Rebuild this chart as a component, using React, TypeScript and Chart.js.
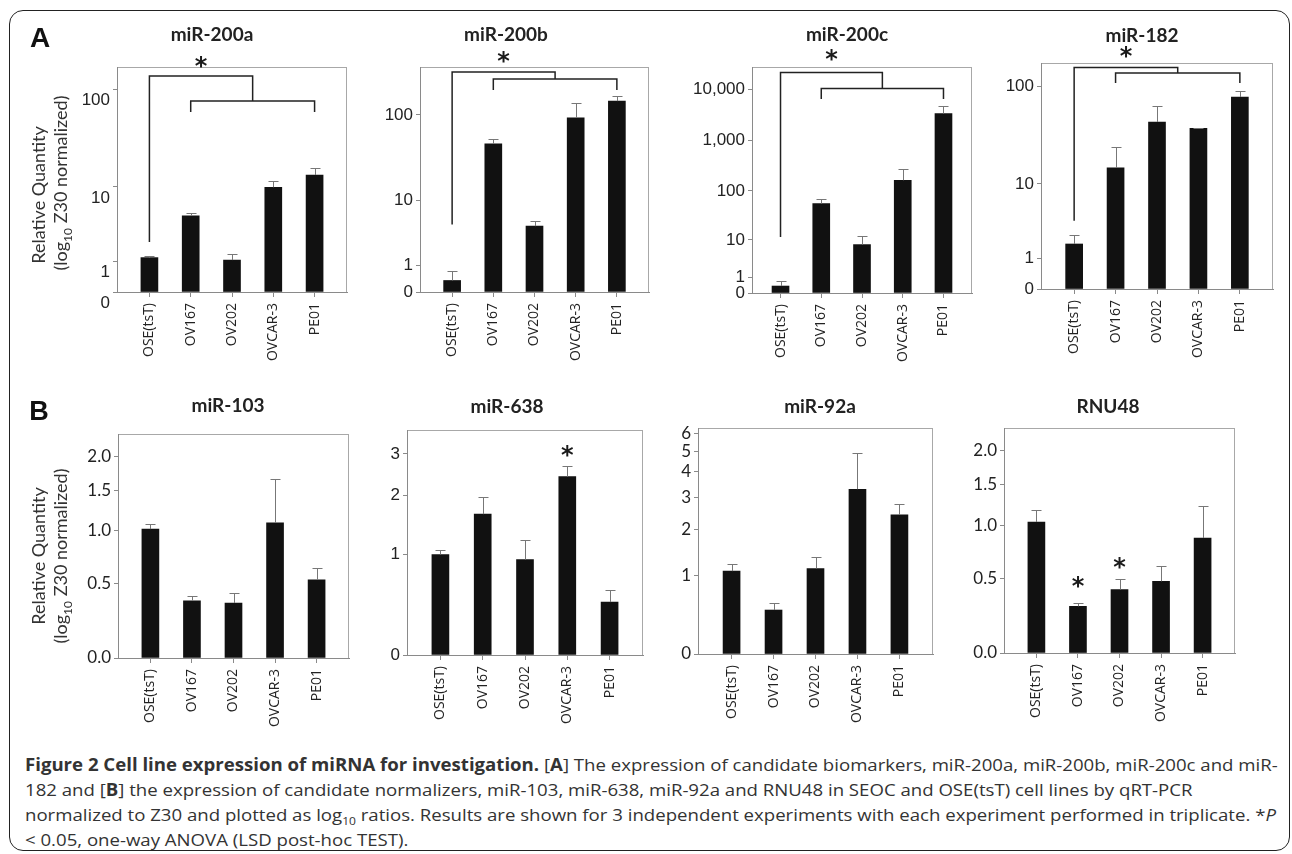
import React, { useEffect, useLayoutEffect, useRef } from 'react';
import { Chart, registerables, LinearScale } from 'chart.js';

// Axis used by the figure: values are plotted on log10(1 + x)
class Log1pScale extends LinearScale {
  static id = 'log1p';
  getPixelForValue(value: number) {
    const a = Math.log10(1 + this.min);
    const b = Math.log10(1 + this.max);
    const v = Math.log10(1 + Math.max(0, value));
    return this.getPixelForDecimal((v - a) / (b - a));
  }
  getValueForPixel(pixel: number) {
    const a = Math.log10(1 + this.min);
    const b = Math.log10(1 + this.max);
    return Math.pow(10, a + this.getDecimalForPixel(pixel) * (b - a)) - 1;
  }
}
Chart.register(...registerables, Log1pScale);

// ---------------- data ----------------
const categories = ['OSE(tsT)', 'OV167', 'OV202', 'OVCAR-3', 'PE01'];

const miR200aMean = [1.19, 4.69, 1.07, 9.88, 13.4];
const miR200aErr = [0.1, 0.41, 0.31, 1.59, 2.4];
const miR200bMean = [0.35, 46.7, 4.56, 93, 144];
const miR200bErr = [0.37, 6.6, 0.78, 45, 20];
const miR200cMean = [0.37, 56.1, 7.93, 162.7, 3346];
const miR200cErr = [0.33, 13.2, 4.5, 109, 1309];
const miR182Mean = [1.79, 14.8, 44, 37.9, 78.6];
const miR182Err = [0.66, 9.4, 19.3, 0.4, 10.8];

const miR103Mean = [1.02, 0.367, 0.35, 1.09, 0.533];
const miR103Err = [0.06, 0.033, 0.076, 0.57, 0.1];
const miR638Mean = [1.0, 1.64, 0.93, 2.42, 0.44];
const miR638Err = [0.06, 0.34, 0.28, 0.26, 0.13];
const miR92aMean = [1.08, 0.475, 1.13, 3.29, 2.42];
const miR92aErr = [0.13, 0.09, 0.22, 1.64, 0.36];
const rnu48Mean = [1.035, 0.288, 0.411, 0.475, 0.866];
const rnu48Err = [0.135, 0.023, 0.08, 0.125, 0.354];

const decadeTicks = [0, 1, 10, 100];
const decadeTickLabels = ['0', '1', '10', '100'];
const wideDecadeTicks = [0, 1, 10, 100, 1000, 10000];
const wideDecadeTickLabels = ['0', '1', '10', '100', '1,000', '10,000'];
const ratioTicks = [0, 0.5, 1, 1.5, 2];
const ratioTickLabels = ['0.0', '0.5', '1.0', '1.5', '2.0'];
const miR638Ticks = [0, 1, 2, 3];
const miR638TickLabels = ['0', '1', '2', '3'];
const miR92aTicks = [0, 1, 2, 3, 4, 5, 6];
const miR92aTickLabels = ['0', '1', '2', '3', '4', '5', '6'];

// ---------------- styles / layout ----------------
const ARIAL = "'Liberation Sans', Arial, sans-serif";
const LATO = "Lato, 'Open Sans', sans-serif";
const OPEN = "'Open Sans', 'DejaVu Sans', sans-serif";
const Y_AXIS_W = 70;
const PAD_TOP = 32;
const PAD_R = 6;
const X_AXIS_H = 72;
const AXIS_COLOR = '#8a8a8a';
const BOX_COLOR = '#a8a8a8';

type Bracket = { legFrom: number; top: number; low: number; tick: number; star: number };
type Panel = {
  id: string;
  values: number[];
  errors: number[];
  ticks: number[];
  tickLabels: string[];
  yMax: number;
  box: [number, number, number, number];
  xPad: number;
  yFont: string;
  labelOffset?: number;
  bracket?: Bracket;
  stars?: { i: number; at: number }[];
};

const panels: Panel[] = [
  { id: 'a1', values: miR200aMean, errors: miR200aErr, ticks: decadeTicks, tickLabels: decadeTickLabels, yMax: 167.9, box: [117, 67, 347, 292], xPad: 0.785, yFont: ARIAL, labelOffset: 11, bracket: { legFrom: 2.13, top: 9, low: 34, tick: 11, star: -5.3 } },
  { id: 'a2', values: miR200bMean, errors: miR200bErr, ticks: decadeTicks, tickLabels: decadeTickLabels, yMax: 352, box: [420, 67, 649, 292], xPad: 0.78, yFont: ARIAL, bracket: { legFrom: 4.81, top: 5, low: 12, tick: 11, star: -10 } },
  { id: 'a3', values: miR200cMean, errors: miR200cErr, ticks: wideDecadeTicks, tickLabels: wideDecadeTickLabels, yMax: 27540, box: [752, 67, 972, 293], xPad: 0.7, yFont: ARIAL, bracket: { legFrom: 11.6, top: 5.5, low: 21.5, tick: 10.5, star: -12 } },
  { id: 'a4', values: miR182Mean, errors: miR182Err, ticks: decadeTicks, tickLabels: decadeTickLabels, yMax: 171.8, box: [1041, 63, 1273, 289], xPad: 0.8, yFont: ARIAL, bracket: { legFrom: 3.75, top: 4.5, low: 10, tick: 10, star: -11.5 } },
  { id: 'b1', values: miR103Mean, errors: miR103Err, ticks: ratioTicks, tickLabels: ratioTickLabels, yMax: 2.395, box: [118, 434, 349, 658], xPad: 0.78, yFont: LATO },
  { id: 'b2', values: miR638Mean, errors: miR638Err, ticks: miR638Ticks, tickLabels: miR638TickLabels, yMax: 3.717, box: [407, 430, 643, 655], xPad: 0.79, yFont: ARIAL, stars: [{ i: 3, at: 3.08 }] },
  { id: 'b3', values: miR92aMean, errors: miR92aErr, ticks: miR92aTicks, tickLabels: miR92aTickLabels, yMax: 6.373, box: [698, 428, 933, 654], xPad: 0.8, yFont: LATO },
  { id: 'b4', values: rnu48Mean, errors: rnu48Err, ticks: ratioTicks, tickLabels: ratioTickLabels, yMax: 2.389, box: [1004, 428, 1235, 653], xPad: 0.78, yFont: LATO, stars: [{ i: 1, at: 0.468 }, { i: 2, at: 0.631 }] },
];

function drawStar(ctx: CanvasRenderingContext2D, cx: number, cy: number) {
  ctx.save();
  ctx.fillStyle = '#1a1a1a';
  ctx.font = "bold 24px 'DejaVu Sans', sans-serif";
  ctx.textAlign = 'center';
  ctx.textBaseline = 'alphabetic';
  const m = ctx.measureText('*');
  const asc = m.actualBoundingBoxAscent || 17;
  const desc = m.actualBoundingBoxDescent || -8;
  ctx.fillText('*', cx, cy + (asc - desc) / 2);
  ctx.restore();
}

function makePlugin(p: Panel) {
  return {
    id: 'fig_' + p.id,
    beforeDraw(chart: any) {
      const { ctx, chartArea: a } = chart;
      ctx.save();
      ctx.strokeStyle = BOX_COLOR;
      ctx.lineWidth = 1;
      ctx.strokeRect(Math.round(a.left) + 0.5, Math.round(a.top) + 0.5, Math.round(a.right - a.left) - 1, Math.round(a.bottom - a.top));
      ctx.restore();
    },
    afterDatasetsDraw(chart: any) {
      const { ctx, chartArea: a } = chart;
      const xs = chart.scales.x;
      const ys = chart.scales.y;
      ctx.save();
      // error bars
      ctx.strokeStyle = '#777';
      ctx.lineWidth = 1;
      p.values.forEach((v, i) => {
        const px = Math.round(xs.getPixelForValue(i)) + 0.5;
        const y0 = ys.getPixelForValue(v);
        const y1 = Math.round(ys.getPixelForValue(v + p.errors[i])) + 0.5;
        ctx.beginPath();
        ctx.moveTo(px, y0);
        ctx.lineTo(px, y1);
        ctx.moveTo(px - 5, y1);
        ctx.lineTo(px + 5, y1);
        ctx.stroke();
      });
      // significance bracket
      if (p.bracket) {
        const b = p.bracket;
        const x0 = xs.getPixelForValue(0);
        const x1 = xs.getPixelForValue(1);
        const x4 = xs.getPixelForValue(4);
        const xm = (x1 + x4) / 2;
        const yTop = a.top + b.top;
        const yLow = a.top + b.low;
        const yLeg = ys.getPixelForValue(b.legFrom);
        ctx.strokeStyle = '#222';
        ctx.lineWidth = 1.5;
        ctx.beginPath();
        ctx.moveTo(x0, yLeg);
        ctx.lineTo(x0, yTop);
        ctx.lineTo(xm, yTop);
        ctx.lineTo(xm, yLow);
        ctx.moveTo(x1, yLow + b.tick);
        ctx.lineTo(x1, yLow);
        ctx.lineTo(x4, yLow);
        ctx.lineTo(x4, yLow + b.tick);
        ctx.stroke();
        drawStar(ctx, (x0 + xm) / 2, a.top + b.star);
      }
      (p.stars || []).forEach((s) => {
        drawStar(ctx, xs.getPixelForValue(s.i), ys.getPixelForValue(s.at));
      });
      ctx.restore();
    },
  };
}

function PanelChart({ p }: { p: Panel }) {
  const ref = useRef<HTMLCanvasElement>(null);
  const [l, t, r, b] = p.box;
  const W = Y_AXIS_W + (r - l) + PAD_R;
  const H = PAD_TOP + (b - t) + X_AXIS_H;
  useEffect(() => {
    const chart = new Chart(ref.current as HTMLCanvasElement, {
      type: 'bar',
      data: {
        datasets: [
          {
            data: p.values.map((v, i) => ({ x: i, y: v })),
            backgroundColor: '#111',
            borderWidth: 0,
            barThickness: 17,
          } as any,
        ],
      },
      options: {
        responsive: false,
        animation: false,
        devicePixelRatio: 1,
        layout: { padding: { top: PAD_TOP, right: PAD_R, left: 0, bottom: 0 } },
        plugins: { legend: { display: false }, tooltip: { enabled: false }, title: { display: false } },
        scales: {
          x: {
            type: 'linear',
            min: -p.xPad,
            max: 4 + p.xPad,
            bounds: 'data',
            offset: false,
            afterBuildTicks: (ax: any) => {
              ax.ticks = categories.map((_, i) => ({ value: i }));
            },
            afterFit: (ax: any) => {
              ax.height = X_AXIS_H;
            },
            ticks: {
              autoSkip: false,
              maxRotation: 90,
              minRotation: 90,
              padding: 6,
              color: '#222',
              font: { family: OPEN, size: 14 },
              callback: (v: any) => categories[Math.round(Number(v))],
            },
            grid: { drawOnChartArea: false, drawTicks: true, tickLength: 5, color: AXIS_COLOR, offset: false },
            border: { display: true, color: AXIS_COLOR, width: 1 },
          } as any,
          y: {
            type: 'log1p',
            min: 0,
            max: p.yMax,
            bounds: 'data',
            afterBuildTicks: (ax: any) => {
              ax.ticks = p.ticks.map((v) => ({ value: v }));
            },
            afterFit: (ax: any) => {
              ax.width = Y_AXIS_W;
            },
            ticks: {
              autoSkip: false,
              padding: 3,
              color: '#222',
              labelOffset: p.labelOffset || 0,
              font: { family: p.yFont, size: 17 },
              callback: (_v: any, i: number) => p.tickLabels[i],
            },
            grid: { drawOnChartArea: false, drawTicks: true, tickLength: 4, color: AXIS_COLOR },
            border: { display: true, color: AXIS_COLOR, width: 1 },
          } as any,
        },
      } as any,
      plugins: [makePlugin(p)],
    });
    return () => chart.destroy();
  }, []);
  return (
    <canvas
      ref={ref}
      width={W}
      height={H}
      style={{ position: 'absolute', left: l - Y_AXIS_W, top: t - PAD_TOP, width: W, height: H }}
    />
  );
}

const titles = [
  { text: 'miR-200a', x: 212, y: 33 },
  { text: 'miR-200b', x: 506, y: 33 },
  { text: 'miR-200c', x: 847, y: 33 },
  { text: 'miR-182', x: 1142, y: 34 },
  { text: 'miR-103', x: 228, y: 404 },
  { text: 'miR-638', x: 507, y: 405 },
  { text: 'miR-92a', x: 820, y: 405 },
  { text: 'RNU48', x: 1108, y: 405 },
];

function Centered({ x, y, style, children, rotate }: any) {
  return (
    <div
      style={{
        position: 'absolute',
        left: x,
        top: y,
        lineHeight: 1,
        whiteSpace: 'nowrap',
        transform: `translate(-50%, -50%)${rotate ? ' rotate(-90deg)' : ''}`,
        ...style,
      }}
    >
      {children}
    </div>
  );
}

function YTitle({ x1, y1, x2, y2 }: any) {
  const st = { fontFamily: LATO, fontSize: 18, color: '#333' };
  return (
    <>
      <Centered x={x1} y={y1} rotate style={st}>Relative Quantity</Centered>
      <Centered x={x2} y={y2} rotate style={st}>
        (log<sub style={{ fontSize: 12, verticalAlign: 'sub', lineHeight: 0 }}>10</sub> Z30 normalized)
      </Centered>
    </>
  );
}

const CAPTION_LEFT = 25;
const CAPTION_WIDTH = 1253;
const CAPTION_TOP = 764;
const CAPTION_STEP = 25;

function Caption() {
  const refs = useRef<(HTMLDivElement | null)[]>([]);
  useLayoutEffect(() => {
    const fit = () => {
      const first = refs.current[0];
      if (!first) return;
      const s = CAPTION_WIDTH / first.offsetWidth;
      refs.current.forEach((el) => {
        if (el) el.style.transform = `translateY(-50%) scaleX(${s})`;
      });
    };
    fit();
    (document as any).fonts?.ready?.then(fit);
  }, []);
  const lineStyle = (i: number): React.CSSProperties => ({
    position: 'absolute',
    left: CAPTION_LEFT,
    top: CAPTION_TOP + i * CAPTION_STEP,
    whiteSpace: 'nowrap',
    lineHeight: 1,
    fontFamily: OPEN,
    fontSize: 17,
    color: '#333',
    transformOrigin: 'left center',
    transform: 'translateY(-50%)',
  });
  return (
    <>
      <div ref={(el) => { refs.current[0] = el; }} style={lineStyle(0)}>
        <b>Figure 2 Cell line expression of miRNA for investigation.</b> [<b>A</b>] The expression of candidate biomarkers, miR-200a, miR-200b, miR-200c and miR-
      </div>
      <div ref={(el) => { refs.current[1] = el; }} style={lineStyle(1)}>
        182 and [<b>B</b>] the expression of candidate normalizers, miR-103, miR-638, miR-92a and RNU48 in SEOC and OSE(tsT) cell lines by qRT-PCR
      </div>
      <div ref={(el) => { refs.current[2] = el; }} style={lineStyle(2)}>
        normalized to Z30 and plotted as log<sub style={{ fontSize: 11, lineHeight: 0 }}>10</sub> ratios. Results are shown for 3 independent experiments with each experiment performed in triplicate. *<i>P</i>
      </div>
      <div ref={(el) => { refs.current[3] = el; }} style={lineStyle(3)}>
        &lt; 0.05, one-way ANOVA (LSD post-hoc TEST).
      </div>
    </>
  );
}

export default function App() {
  return (
    <div style={{ position: 'absolute', left: 0, top: 0, width: 1292, height: 854, background: '#fff', overflow: 'hidden' }}>
      <div
        style={{
          position: 'absolute',
          left: 9,
          top: 10,
          width: 1281,
          height: 841,
          border: '1.5px solid #222',
          borderRadius: 14,
          boxSizing: 'border-box',
        }}
      />
      {panels.map((p) => (
        <PanelChart key={p.id} p={p} />
      ))}
      <Centered x={40} y={38} style={{ fontFamily: ARIAL, fontWeight: 'bold', fontSize: 28, color: '#111' }}>A</Centered>
      <Centered x={39} y={411} style={{ fontFamily: ARIAL, fontWeight: 'bold', fontSize: 27, color: '#111' }}>B</Centered>
      {titles.map((t) => (
        <Centered key={t.text} x={t.x} y={t.y} style={{ fontFamily: LATO, fontWeight: 'bold', fontSize: 19, color: '#222' }}>
          {t.text}
        </Centered>
      ))}
      <YTitle x1={37.5} y1={195} x2={60} y2={183} />
      <YTitle x1={37.5} y1={556} x2={60} y2={556} />
      <Caption />
    </div>
  );
}
